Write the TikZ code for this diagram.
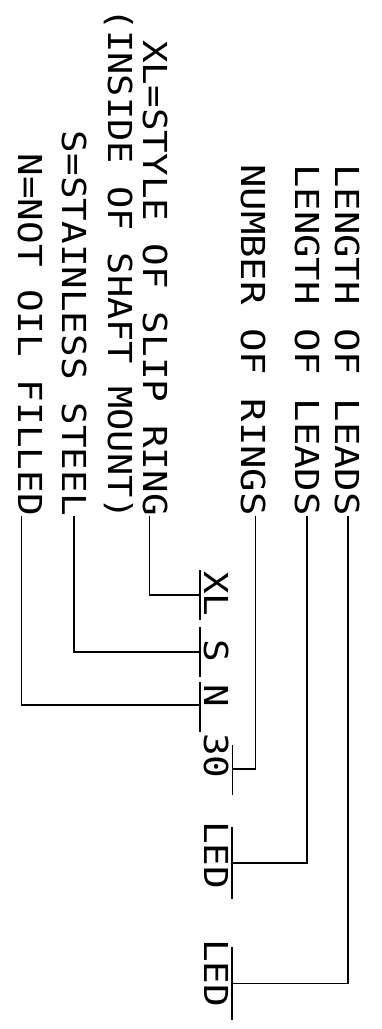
\documentclass[tikz,border=0pt]{standalone}
\usepackage{fontspec}
\newfontfamily\cadfont[FakeStretch=1.14]{DejaVu Sans Mono}
\newfontfamily\cadwide[FakeStretch=1.18]{DejaVu Sans Mono}
\newfontfamily\cadnarrow[FakeStretch=1.12]{DejaVu Sans Mono}
\usetikzlibrary{positioning,calc}
\tikzset{
  legend/.style={rotate=-90,anchor=base east,inner sep=0pt,
    font=\cadfont\fontsize{33}{33}\selectfont},
  widelegend/.style={legend,font=\cadwide\fontsize{33}{33}\selectfont},
  codetext/.style={rotate=-90,anchor=base west,inner sep=0pt,
    font=\cadfont\fontsize{33}{33}\selectfont},
  leader/.style={line width=1.8pt,draw=black},
  bar/.style={line width=1.8pt,draw=black}
}
\begin{document}
\begin{tikzpicture}[x=1pt,y=-1pt]
  \useasboundingbox (0,0) rectangle (382,1029);
  \node[widelegend] (leadsa) at (335.5,516) {LENGTH OF LEADS};
  \node[widelegend] (leadsb) at (295,516) {LENGTH OF LEADS};
  \node[widelegend] (rings) at (241,516) {NUMBER OF RINGS};
  \node[legend] (slip) at (143,516) {XL=STYLE OF SLIP RING};
  \node[legend,font=\cadnarrow\fontsize{33}{33}\selectfont] (mount) at (108,520) {(INSIDE OF SHAFT MOUNT)};
  \node[legend] (steel) at (62,516) {S=STAINLESS STEEL};
  \node[legend] (oil) at (18,516) {N=NOT OIL FILLED};
  \node[codetext] (xl) at (204,571) {XL};
  \node[codetext] (s) at (204,639) {S};
  \node[codetext] (n) at (204,684) {N};
  \node[codetext] (thirty) at (204,733) {30};
  \node[codetext] (leda) at (204,821) {LED};
  \node[codetext] (ledb) at (204,939) {LED};
  \draw[bar] (200,570) -- coordinate[midway] (xlbar) (200,620);
  \draw[bar] (200,627) -- coordinate[midway] (sbar) (200,677);
  \draw[bar] (200,682) -- coordinate[pos=0.46] (nbar) (200,732);
  \draw[bar] (232.5,745) -- coordinate[pos=0.48] (thirtybar) (232.5,795);
  \draw[bar] (232,827) -- coordinate[midway] (ledabar) (232,899);
  \draw[bar] (232,947) -- coordinate[midway] (ledbbar) (232,1020);
  \draw[leader] ([xshift=0.5pt]leadsa.east) |- (ledbbar);
  \draw[leader] (leadsb.east) |- (ledabar);
  \draw[leader] ([xshift=2.5pt]rings.east) |- (thirtybar);
  \draw[leader] ([xshift=-5.5pt]slip.east) |- (xlbar);
  \draw[leader] (steel.east) |- (sbar);
  \draw[leader] ([xshift=-8.5pt]oil.east) |- (nbar);
\end{tikzpicture}
\end{document}
